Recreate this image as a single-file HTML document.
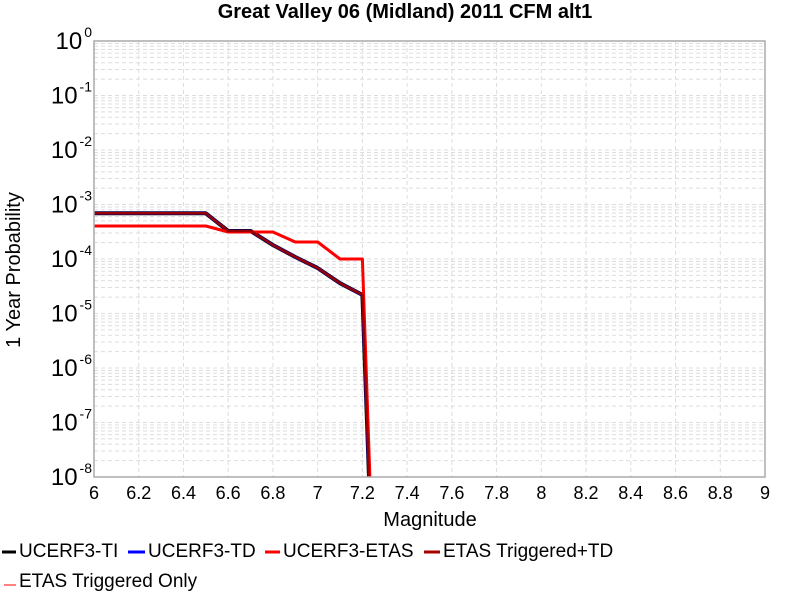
<!DOCTYPE html>
<html><head><meta charset="utf-8"><style>
html,body{margin:0;background:#fff;overflow:hidden;width:800px;height:600px;}
svg{display:block;font-family:"Liberation Sans",sans-serif;}
</style></head><body>
<svg id="chart" width="800" height="600">
<text x="405" y="18" text-anchor="middle" font-size="20" font-weight="bold">Great Valley 06 (Midland) 2011 CFM alt1</text>
<g id="grid"></g>
<g id="series"></g>
<rect x="94" y="41" width="671" height="436" fill="none" stroke="#aaa" stroke-width="1.5"/>
<g id="xticks"></g>
<g id="yticks"></g>
<text x="430" y="526" text-anchor="middle" font-size="20">Magnitude</text>
<text x="20" y="270" text-anchor="middle" font-size="20" transform="rotate(-90 20 270)">1 Year Probability</text>
<g font-size="19">
<g><line x1="2" y1="552" x2="16" y2="552" stroke="#000" stroke-width="3"/><text x="19" y="557">UCERF3-TI</text></g>
<g><line x1="128" y1="552" x2="145" y2="552" stroke="#0000ff" stroke-width="3"/><text x="148" y="557">UCERF3-TD</text></g>
<g><line x1="265" y1="552" x2="280" y2="552" stroke="#ff0000" stroke-width="3"/><text x="283" y="557">UCERF3-ETAS</text></g>
<g><line x1="424" y1="552" x2="440" y2="552" stroke="#aa0000" stroke-width="3"/><text x="443" y="557">ETAS Triggered+TD</text></g>
<g><line x1="4" y1="585" x2="16" y2="585" stroke="#ff8080" stroke-width="2"/><text x="19" y="587">ETAS Triggered Only</text></g>
</g>
</svg>
<script>
const mags = [6.0, 6.1, 6.2, 6.3, 6.4, 6.5, 6.6, 6.7, 6.8, 6.9, 7.0, 7.1, 7.2, 7.3];
const tiValues = [6.9e-4, 6.9e-4, 6.9e-4, 6.9e-4, 6.9e-4, 6.9e-4, 3.27e-4, 3.27e-4, 1.81e-4, 1.09e-4, 6.8e-5, 3.6e-5, 2.19e-5, 1e-16];
const tdValues = [6.9e-4, 6.9e-4, 6.9e-4, 6.9e-4, 6.9e-4, 6.9e-4, 3.27e-4, 3.27e-4, 1.81e-4, 1.09e-4, 6.8e-5, 3.6e-5, 2.19e-5, 1e-16];
const etasValues = [4.03e-4, 4.03e-4, 4.03e-4, 4.03e-4, 4.03e-4, 4.03e-4, 3.13e-4, 3.13e-4, 3.13e-4, 2.05e-4, 2.05e-4, 1.0e-4, 1.0e-4, 1e-16];
const trigTdValues = [6.9e-4, 6.9e-4, 6.9e-4, 6.9e-4, 6.9e-4, 6.9e-4, 3.27e-4, 3.27e-4, 1.81e-4, 1.09e-4, 6.8e-5, 3.6e-5, 2.19e-5, 1e-16];
const xTickLabels = ["6","6.2","6.4","6.6","6.8","7","7.2","7.4","7.6","7.8","8","8.2","8.4","8.6","8.8","9"];
const yExponents = [0,-1,-2,-3,-4,-5,-6,-7,-8];

const NS="http://www.w3.org/2000/svg";
const X0=94,X1=765,Y0=41,Y1=477;
const xs=m=>X0+(m-6)/3*(X1-X0);
const ys=v=>Y0+(0-Math.log10(v))/8*(Y1-Y0);
function mk(tag,attrs,parent){const e=document.createElementNS(NS,tag);for(const k in attrs)e.setAttribute(k,attrs[k]);parent.appendChild(e);return e;}
const grid=document.getElementById('grid');
xTickLabels.forEach(t=>{const x=xs(parseFloat(t));
 const l=mk('line',{x1:x,x2:x,y1:Y0,y2:Y1,stroke:'#ddd','stroke-dasharray':'4,3'},grid);
 
 
 const tx=mk('text',{x:x,y:499,'text-anchor':'middle','font-size':'18'},document.getElementById('xticks'));
 tx.textContent=t;
 
 
});
for(let e=-8;e<0;e++){for(let k=1;k<=9;k++){const y=ys(k*Math.pow(10,e));
 const l=mk('line',{x1:X0,x2:X1,y1:y,y2:y,stroke:'#ddd','stroke-dasharray':'4,3'},grid);
 
 }}
yExponents.forEach(e=>{const y=ys(Math.pow(10,e));
 const t=mk('text',{x:92,y:y+8,'text-anchor':'end','font-size':'24'},document.getElementById('yticks'));
 t.innerHTML='10<tspan dy="-12" dx="2" font-size="14">'+e+'</tspan>';
 
 
});
mk('clipPath',{id:'clip'},document.getElementById('chart'));
mk('rect',{x:X0,y:Y0,width:X1-X0,height:Y1-Y0},document.getElementById('clip'));
const ser=document.getElementById('series');ser.setAttribute('clip-path','url(#clip)');
function draw(vals,color,w,name){const d=mags.map((m,i)=>(i?'L':'M')+xs(m).toFixed(1)+','+ys(vals[i]).toFixed(1)).join('');
 const p=mk('path',{d:d,fill:'none',stroke:color,'stroke-width':w,'stroke-linejoin':'round'},ser);
 
 }
draw(tiValues,'#000',4,'ucerf3-ti-line');
draw(tdValues,'#0000ff',3,'ucerf3-td-line');
draw(etasValues,'#ff0000',3,'ucerf3-etas-line');
draw(trigTdValues,'#990000',2.5,'etas-triggered-td-line');
</script>
</body></html>
